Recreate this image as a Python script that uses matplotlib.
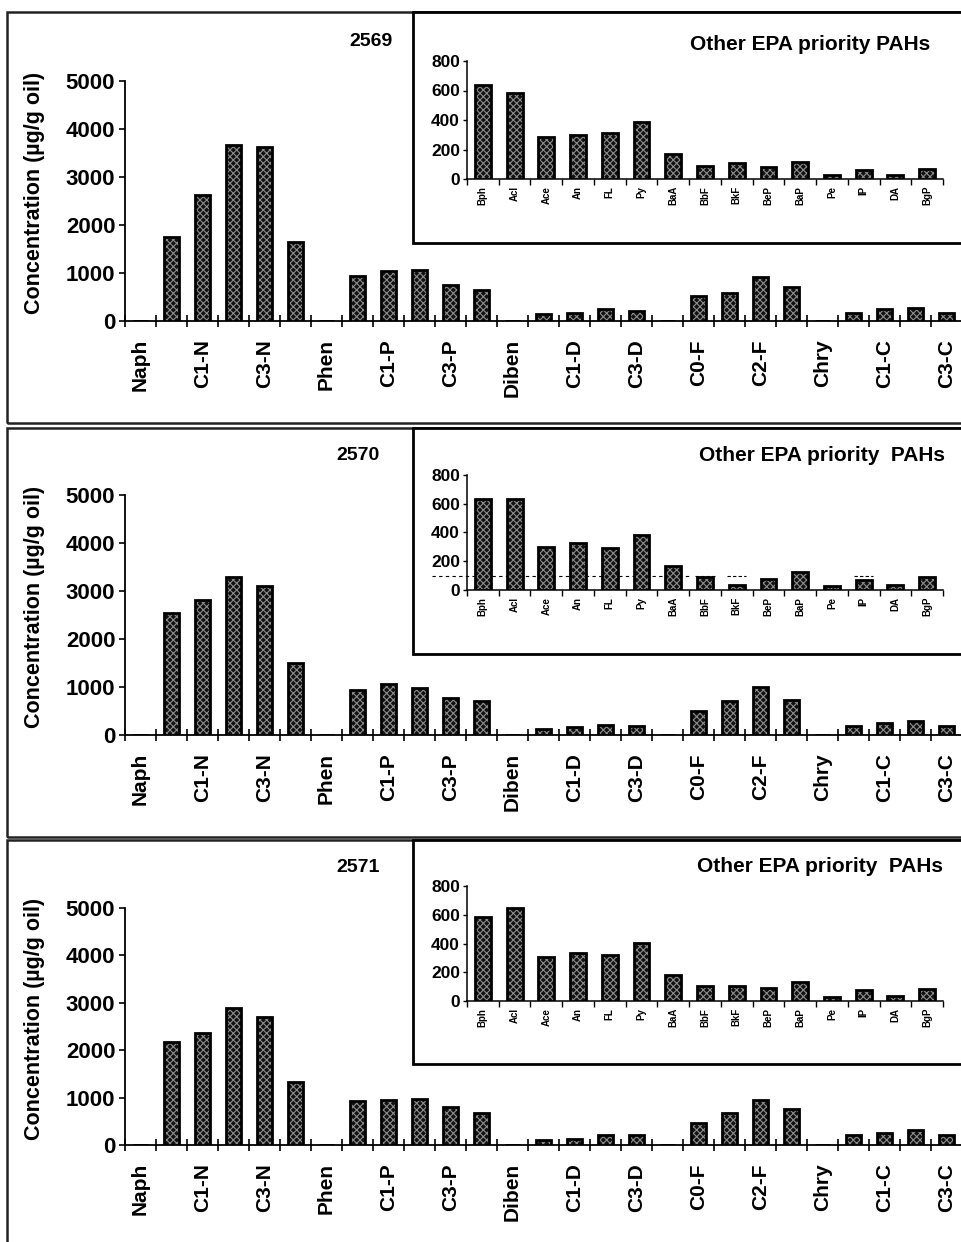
import matplotlib

matplotlib.use("Agg")
import matplotlib.pyplot as plt
import numpy as np
from matplotlib.patches import Rectangle

plt.rcParams["font.family"] = ["Liberation Sans", "DejaVu Sans"]
plt.rcParams["font.weight"] = "bold"
plt.rcParams["hatch.linewidth"] = 0.8

W, H = 961, 1242

main_cats = ["Naph", "C0-N", "C1-N", "C2-N", "C3-N", "C4-N", "Phen", "C0-P", "C1-P",
             "C2-P", "C3-P", "C4-P", "Diben", "C0-D", "C1-D", "C2-D", "C3-D", "Fluo",
             "C0-F", "C1-F", "C2-F", "C3-F", "Chry", "C0-C", "C1-C", "C2-C", "C3-C"]
inset_cats = ["Bph", "Acl", "Ace", "An", "FL", "Py", "BaA", "BbF", "BkF", "BeP",
              "BaP", "Pe", "IP", "DA", "BgP"]

oil_ids = ["2569", "2570", "2571"]
main_2569 = [0, 1760, 2630, 3670, 3630, 1650, 0, 930, 1050, 1055, 760, 655, 0,
             145, 160, 250, 210, 0, 530, 580, 920, 700, 0, 175, 250, 280, 160]
main_2570 = [0, 2535, 2810, 3300, 3100, 1500, 0, 935, 1060, 975, 770, 700, 0,
             125, 160, 215, 195, 0, 505, 715, 1005, 730, 10, 195, 255, 300, 195]
main_2571 = [0, 2180, 2370, 2880, 2695, 1335, 0, 935, 950, 975, 795, 680, 0,
             112, 133, 210, 203, 0, 470, 665, 945, 760, 10, 203, 260, 315, 205]
epa_2569 = [636, 584, 288, 299, 315, 389, 171, 90, 108, 79, 117, 29, 63, 27, 70]
epa_2570 = [635, 635, 298, 330, 294, 381, 165, 89, 34, 76, 122, 28, 71, 32, 87]
epa_2571 = [586, 649, 307, 335, 321, 405, 184, 107, 107, 88, 130, 30, 77, 35, 84]
inset_titles = ["Other EPA priority PAHs", "Other EPA priority  PAHs",
                "Other EPA priority  PAHs"]

# pixel positions of each panel (frame, main axis, inset box/axis, captions)
layout = [
    dict(top=12, bot=423, m0=321, m1=81, ib=243, i0=179, i1=61,
         idx=393, idy=42, tx=930, ty=44),
    dict(top=428, bot=837, m0=735, m1=495, ib=654, i0=590, i1=475,
         idx=380, idy=455, tx=945, ty=455),
    dict(top=840, bot=1250, m0=1145, m1=908, ib=1064, i0=1001, i1=886,
         idx=380, idy=867, tx=943, ty=867),
]


def fx(px):
    return px / W


def fy(py):
    return 1 - py / H


def stipple_bars(ax, x, v, width):
    ax.bar(x, v, width=width, color="#111111", edgecolor="none", zorder=2)
    ax.bar(x, v, width=width, fill=False, hatch="xxxxx", edgecolor="#8c8c8c",
           linewidth=0, zorder=3)
    ax.bar(x, v, width=width, fill=False, edgecolor="black", linewidth=2.0, zorder=4)


fig = plt.figure(figsize=(W / 100, H / 100), dpi=100)

main_vals = [main_2569, main_2570, main_2571]
epa_vals = [epa_2569, epa_2570, epa_2571]

for k, L in enumerate(layout):
    # panel frame
    fig.add_artist(Rectangle((fx(7), fy(L["bot"])), fx(W + 20), fy(L["top"]) - fy(L["bot"]),
                             transform=fig.transFigure, fill=False,
                             edgecolor="#222222", linewidth=1.8, zorder=1))

    # main chart
    ax = fig.add_axes([fx(125), fy(L["m0"]), fx(837), fy(L["m1"]) - fy(L["m0"])])
    x = np.arange(len(main_cats))
    stipple_bars(ax, x, main_vals[k], 0.5)
    ax.set_xlim(-0.5, len(main_cats) - 0.5)
    ax.set_ylim(0, 5000)
    ax.set_yticks([0, 1000, 2000, 3000, 4000, 5000])
    ax.tick_params(axis="y", direction="out", length=4, width=1.2, labelsize=16, pad=3)
    ax.set_xticks(np.arange(-0.5, len(main_cats), 1))
    ax.set_xticklabels([])
    ax.tick_params(axis="x", which="major", direction="inout", length=9, width=1.2)
    ax.set_xticks(x[::2], minor=True)
    ax.set_xticklabels(main_cats[::2], minor=True, rotation=90, fontsize=15,
                       fontweight="bold")
    ax.tick_params(axis="x", which="minor", length=0, pad=13)
    for s in ["top", "right"]:
        ax.spines[s].set_visible(False)
    for s in ["left", "bottom"]:
        ax.spines[s].set_linewidth(1.3)
    ax.patch.set_alpha(0)

    fig.text(fx(35), fy((L["m0"] + L["m1"]) / 2 - 8), "Concentration (µg/g oil)",
             rotation=90, ha="center", va="center", fontsize=15.5, fontweight="bold")
    fig.text(fx(L["idx"]), fy(L["idy"]), oil_ids[k], ha="right", va="center",
             fontsize=14, fontweight="bold", zorder=5)

    # inset box
    fig.add_artist(Rectangle((fx(413), fy(L["ib"])), fx(W), fy(L["top"]) - fy(L["ib"]),
                             transform=fig.transFigure, facecolor="white",
                             edgecolor="black", linewidth=2.0, zorder=1))
    ins = fig.add_axes([fx(467), fy(L["i0"]), fx(476), fy(L["i1"]) - fy(L["i0"])])
    ins.set_zorder(2)
    xi = np.arange(len(inset_cats))
    stipple_bars(ins, xi, epa_vals[k], 0.5)
    if k == 1:
        # faint dashed scan line across the inset
        ins.plot([-1.6, 6.5], [96, 96], ls=(0, (3, 3)), color="black", lw=0.8,
                 clip_on=False, zorder=1)
        for xd in [7, 8, 12]:
            ins.plot([xd - 0.3, xd + 0.3], [97, 97], ls=(0, (3, 2)), color="black",
                     lw=0.8, zorder=5)
    ins.set_xlim(-0.5, len(inset_cats) - 0.5)
    ins.set_ylim(0, 800)
    ins.set_yticks([0, 200, 400, 600, 800])
    ins.tick_params(axis="y", direction="out", length=3, width=1, labelsize=12.5, pad=2)
    ins.set_xticks(np.arange(-0.5, len(inset_cats), 1))
    ins.set_xticklabels([])
    ins.tick_params(axis="x", which="major", direction="out", length=4, width=1)
    ins.set_xticks(xi, minor=True)
    ins.set_xticklabels(inset_cats, minor=True, rotation=90, fontsize=7,
                        fontweight="bold")
    ins.tick_params(axis="x", which="minor", length=0, pad=5)
    for s in ["top", "right"]:
        ins.spines[s].set_visible(False)
    for s in ["left", "bottom"]:
        ins.spines[s].set_linewidth(1.1)
    ins.patch.set_alpha(0)
    fig.text(fx(L["tx"]), fy(L["ty"]), inset_titles[k], ha="right", va="center",
             fontsize=15, fontweight="bold", zorder=5)

fig.savefig("out.png", dpi=100)
plt.close(fig)
